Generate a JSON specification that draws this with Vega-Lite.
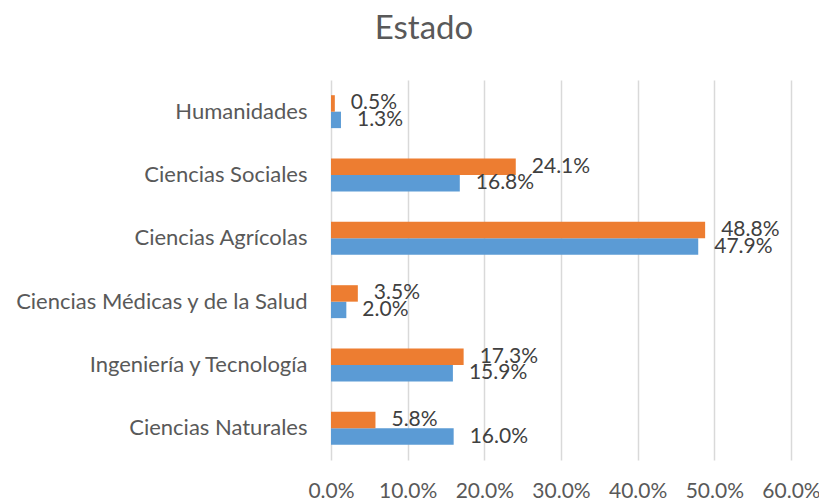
{
  "$schema": "https://vega.github.io/schema/vega-lite/v6.json",
  "autosize": {"type": "none"},
  "width": 460,
  "height": 380,
  "padding": {"left": 331, "top": 80, "right": 28, "bottom": 43},
  "background": "white",
  "title": {
    "text": "Estado",
    "anchor": "middle",
    "dx": -137,
    "offset": 34,
    "fontSize": 33,
    "font": "Lato",
    "fontWeight": "normal",
    "color": "#595959"
  },
  "config": {
    "view": {"stroke": null},
    "font": "Lato"
  },
  "data": {
    "values": [
      {"area": "Humanidades", "serie": "Serie 1", "valor": 0.013},
      {"area": "Humanidades", "serie": "Serie 2", "valor": 0.005},
      {"area": "Ciencias Sociales", "serie": "Serie 1", "valor": 0.168},
      {"area": "Ciencias Sociales", "serie": "Serie 2", "valor": 0.241},
      {"area": "Ciencias Agrícolas", "serie": "Serie 1", "valor": 0.479},
      {"area": "Ciencias Agrícolas", "serie": "Serie 2", "valor": 0.488},
      {"area": "Ciencias Médicas y de la Salud", "serie": "Serie 1", "valor": 0.020},
      {"area": "Ciencias Médicas y de la Salud", "serie": "Serie 2", "valor": 0.035},
      {"area": "Ingeniería y Tecnología", "serie": "Serie 1", "valor": 0.159},
      {"area": "Ingeniería y Tecnología", "serie": "Serie 2", "valor": 0.173},
      {"area": "Ciencias Naturales", "serie": "Serie 1", "valor": 0.160},
      {"area": "Ciencias Naturales", "serie": "Serie 2", "valor": 0.058}
    ]
  },
  "encoding": {
    "y": {
      "field": "area",
      "type": "nominal",
      "sort": ["Humanidades", "Ciencias Sociales", "Ciencias Agrícolas", "Ciencias Médicas y de la Salud", "Ingeniería y Tecnología", "Ciencias Naturales"],
      "scale": {"paddingInner": 0.48, "paddingOuter": 0.24},
      "axis": {
        "title": null,
        "domain": false,
        "ticks": false,
        "labelPadding": 24,
        "labelLimit": 400,
        "labelFontSize": 22,
        "labelColor": "#595959",
        "labelFont": "Lato"
      }
    },
    "yOffset": {
      "field": "serie",
      "type": "nominal",
      "sort": ["Serie 2", "Serie 1"]
    },
    "x": {
      "field": "valor",
      "type": "quantitative",
      "scale": {"domain": [0, 0.6], "nice": false},
      "axis": {
        "title": null,
        "format": ".1%",
        "values": [0, 0.1, 0.2, 0.3, 0.4, 0.5, 0.6],
        "domain": false,
        "ticks": false,
        "grid": true,
        "gridColor": "#d9d9d9",
        "gridWidth": 1.5,
        "labelFlush": false,
        "labelOverlap": false,
        "labelPadding": 20,
        "labelFontSize": 21,
        "labelColor": "#595959",
        "labelFont": "Lato"
      }
    }
  },
  "layer": [
    {
      "mark": {"type": "bar"},
      "encoding": {
        "color": {
          "field": "serie",
          "type": "nominal",
          "scale": {"domain": ["Serie 1", "Serie 2"], "range": ["#5B9BD5", "#ED7D31"]},
          "legend": null
        }
      }
    },
    {
      "mark": {"type": "text", "align": "left", "baseline": "middle", "dx": 16, "fontSize": 21, "color": "#404040", "font": "Lato"},
      "encoding": {
        "text": {"field": "valor", "type": "quantitative", "format": ".1%"}
      }
    }
  ]
}
